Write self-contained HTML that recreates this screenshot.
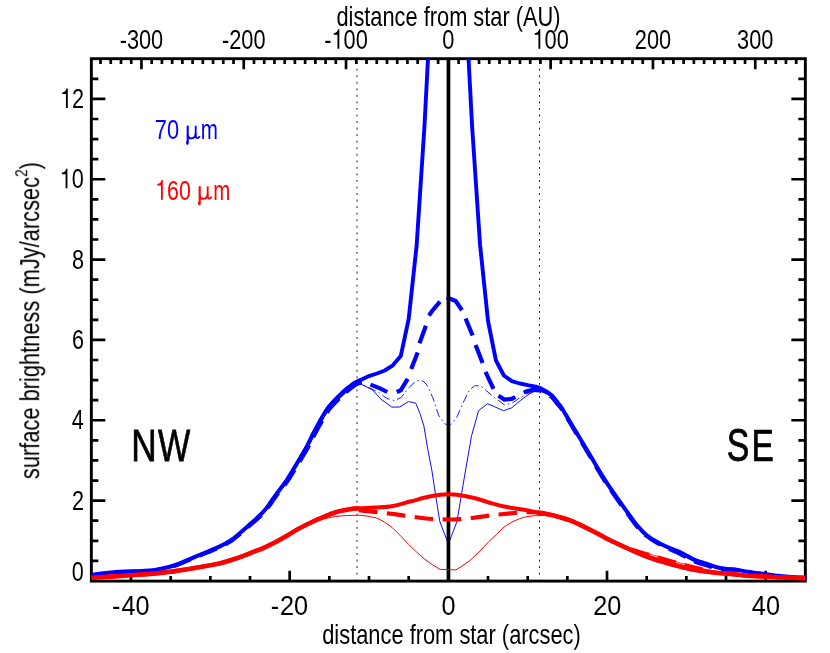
<!DOCTYPE html>
<html><head><meta charset="utf-8"><title>surface brightness profile</title>
<style>html,body{margin:0;padding:0;background:#fff}svg{display:block}text{font-family:"Liberation Sans",sans-serif}</style></head>
<body>
<svg width="830" height="653" viewBox="0 0 830 653">
<rect width="830" height="653" fill="#fff"/>
<defs><clipPath id="cp"><rect x="89.85" y="58.7" width="717.2" height="523.9"/></clipPath></defs>
<g stroke="#000" stroke-width="2.7" fill="none">
<path d="M131.02 581.1L131.02 570.8 M170.68 581.1L170.68 576 M210.35 581.1L210.35 576 M250.02 581.1L250.02 576 M289.68 581.1L289.68 570.8 M329.35 581.1L329.35 576 M369.02 581.1L369.02 576 M408.68 581.1L408.68 576 M448.35 581.1L448.35 570.8 M488.02 581.1L488.02 576 M527.68 581.1L527.68 576 M567.35 581.1L567.35 576 M607.02 581.1L607.02 570.8 M646.68 581.1L646.68 576 M686.35 581.1L686.35 576 M726.02 581.1L726.02 576 M765.68 581.1L765.68 570.8 M100.53 58.7L100.53 63.9 M110.76 58.7L110.76 63.9 M120.99 58.7L120.99 63.9 M131.22 58.7L131.22 63.9 M141.45 58.7L141.45 69.3 M151.68 58.7L151.68 63.9 M161.91 58.7L161.91 63.9 M172.14 58.7L172.14 63.9 M182.37 58.7L182.37 63.9 M192.6 58.7L192.6 63.9 M202.83 58.7L202.83 63.9 M213.06 58.7L213.06 63.9 M223.29 58.7L223.29 63.9 M233.52 58.7L233.52 63.9 M243.75 58.7L243.75 69.3 M253.98 58.7L253.98 63.9 M264.21 58.7L264.21 63.9 M274.44 58.7L274.44 63.9 M284.67 58.7L284.67 63.9 M294.9 58.7L294.9 63.9 M305.13 58.7L305.13 63.9 M315.36 58.7L315.36 63.9 M325.59 58.7L325.59 63.9 M335.82 58.7L335.82 63.9 M346.05 58.7L346.05 69.3 M356.28 58.7L356.28 63.9 M366.51 58.7L366.51 63.9 M376.74 58.7L376.74 63.9 M386.97 58.7L386.97 63.9 M397.2 58.7L397.2 63.9 M407.43 58.7L407.43 63.9 M417.66 58.7L417.66 63.9 M427.89 58.7L427.89 63.9 M438.12 58.7L438.12 63.9 M448.35 58.7L448.35 69.3 M458.58 58.7L458.58 63.9 M468.81 58.7L468.81 63.9 M479.04 58.7L479.04 63.9 M489.27 58.7L489.27 63.9 M499.5 58.7L499.5 63.9 M509.73 58.7L509.73 63.9 M519.96 58.7L519.96 63.9 M530.19 58.7L530.19 63.9 M540.42 58.7L540.42 63.9 M550.65 58.7L550.65 69.3 M560.88 58.7L560.88 63.9 M571.11 58.7L571.11 63.9 M581.34 58.7L581.34 63.9 M591.57 58.7L591.57 63.9 M601.8 58.7L601.8 63.9 M612.03 58.7L612.03 63.9 M622.26 58.7L622.26 63.9 M632.49 58.7L632.49 63.9 M642.72 58.7L642.72 63.9 M652.95 58.7L652.95 69.3 M663.18 58.7L663.18 63.9 M673.41 58.7L673.41 63.9 M683.64 58.7L683.64 63.9 M693.87 58.7L693.87 63.9 M704.1 58.7L704.1 63.9 M714.33 58.7L714.33 63.9 M724.56 58.7L724.56 63.9 M734.79 58.7L734.79 63.9 M745.02 58.7L745.02 63.9 M755.25 58.7L755.25 69.3 M765.48 58.7L765.48 63.9 M775.71 58.7L775.71 63.9 M785.94 58.7L785.94 63.9 M796.17 58.7L796.17 63.9 M91.35 560.87L98.35 560.87 M805.35 560.87L798.35 560.87 M91.35 540.78L98.35 540.78 M805.35 540.78L798.35 540.78 M91.35 520.7L98.35 520.7 M805.35 520.7L798.35 520.7 M91.35 500.61L105.35 500.61 M805.35 500.61L791.35 500.61 M91.35 480.53L98.35 480.53 M805.35 480.53L798.35 480.53 M91.35 460.44L98.35 460.44 M805.35 460.44L798.35 460.44 M91.35 440.36L98.35 440.36 M805.35 440.36L798.35 440.36 M91.35 420.27L105.35 420.27 M805.35 420.27L791.35 420.27 M91.35 400.19L98.35 400.19 M805.35 400.19L798.35 400.19 M91.35 380.1L98.35 380.1 M805.35 380.1L798.35 380.1 M91.35 360.02L98.35 360.02 M805.35 360.02L798.35 360.02 M91.35 339.93L105.35 339.93 M805.35 339.93L791.35 339.93 M91.35 319.85L98.35 319.85 M805.35 319.85L798.35 319.85 M91.35 299.76L98.35 299.76 M805.35 299.76L798.35 299.76 M91.35 279.68L98.35 279.68 M805.35 279.68L798.35 279.68 M91.35 259.59L105.35 259.59 M805.35 259.59L791.35 259.59 M91.35 239.51L98.35 239.51 M805.35 239.51L798.35 239.51 M91.35 219.42L98.35 219.42 M805.35 219.42L798.35 219.42 M91.35 199.34L98.35 199.34 M805.35 199.34L798.35 199.34 M91.35 179.25L105.35 179.25 M805.35 179.25L791.35 179.25 M91.35 159.17L98.35 159.17 M805.35 159.17L798.35 159.17 M91.35 139.08L98.35 139.08 M805.35 139.08L798.35 139.08 M91.35 119L98.35 119 M805.35 119L798.35 119 M91.35 98.91L105.35 98.91 M805.35 98.91L791.35 98.91 M91.35 78.83L98.35 78.83 M805.35 78.83L798.35 78.83"/>
</g>
<line x1="357" y1="58.7" x2="357" y2="579.6" stroke="#000" stroke-width="0.9" stroke-dasharray="1.9 4.645" stroke-dashoffset="3.04"/>
<line x1="539.5" y1="58.7" x2="539.5" y2="579.6" stroke="#000" stroke-width="0.9" stroke-dasharray="1.9 4.645" stroke-dashoffset="3.04"/>
<rect x="91.35" y="58.7" width="714" height="522.4" fill="none" stroke="#000" stroke-width="2.9"/>
<g clip-path="url(#cp)" fill="none" stroke-linejoin="round">
<path d="M357.8 380.8 L362.2 384.7 L372.3 389.8 L381 399.2 L391.8 407.1 L399.8 407 L408.6 401.5 L415.8 403.2 L420 413.6 L423.8 425.6 L427.8 449.5 L431.8 470 L436.2 499 L439.8 521.5 L448.4 544 L457 521.5 L460.7 499 L465.6 470 L471.6 435.6 L478.6 410.7 L487.5 403.7 L494.5 406.7 L503.6 410.7 L511.7 407.8 L520.4 400.6 L529 394.1 L537.7 389.8 L541 388.6" stroke="#00f" stroke-width="0.95"/>
<path d="M357.8 380.6 L362.2 384.7 L378 391.9 L386.7 398.4 L394.5 400.6 L400.9 397.7 L408.9 387.8 L415.9 380.8 L422.8 380.8 L426.8 384.8 L432.8 397.7 L438.8 415.7 L444.7 423.6 L448.4 425.8 L450.7 424.6 L456.7 417.6 L462.6 403.7 L469.6 389.8 L474.6 385.8 L480.6 385.8 L486.5 390.8 L494.5 397.7 L504.4 404.8 L511.7 403.5 L518.9 398.4 L527.6 393.4 L536.3 389.8 L541 388.5" stroke="#00f" stroke-width="0.9" stroke-dasharray="8.5 3.2 1.5 3.2" stroke-dashoffset="4"/>
<path d="M91.58 574.9 C93.99 574.6 100.66 573.64 106.08 573.09 C111.5 572.53 118.07 571.93 124.09 571.57 C130.11 571.21 137.36 571.17 142.19 570.95 C147.02 570.73 149.66 570.68 153.07 570.25 C156.48 569.81 159.45 569.04 162.64 568.34 C165.84 567.64 168.96 567.02 172.22 566.04 C175.48 565.05 178.5 563.92 182.19 562.44 C185.89 560.95 190.3 558.87 194.38 557.13 C198.47 555.39 202.6 553.72 206.68 552.01 C210.76 550.31 214.78 548.89 218.86 546.9 C222.93 544.92 227.44 542.55 231.1 540.11 C234.77 537.66 237.61 534.97 240.86 532.22 C244.12 529.47 247.83 526.1 250.65 523.61 C253.46 521.13 255.39 519.55 257.73 517.31 C260.06 515.08 262.69 512.5 264.67 510.21 C266.66 507.93 267.77 506.2 269.62 503.63 C271.48 501.06 272.94 498.73 275.79 494.8 C278.64 490.88 283.28 485.18 286.72 480.08 C290.17 474.97 293.24 469.5 296.45 464.17 C299.66 458.83 303.27 453 305.98 448.06 C308.69 443.12 310.38 439.04 312.71 434.54 C315.04 430.04 317.52 425.39 319.96 421.08 C322.4 416.76 324.68 412.35 327.35 408.65 C330.02 404.96 333.79 401.26 335.96 398.91 C338.14 396.56 338.62 396.21 340.38 394.54 C342.14 392.86 344.6 390.54 346.53 388.87 C348.47 387.2 350.32 385.7 351.98 384.53 C353.64 383.36 355 382.64 356.51 381.85 C358.03 381.06 360.32 380.14 361.08 379.8" stroke="#00f" stroke-width="4.0"/>
<path d="M361.08 379.8 L369.02 376.1 L376.95 373.5 L384.88 370.5 L392.82 365.3 L400.75 356.1 L408.68 319 L416.62 245.8 L424.55 125 L432.48 -29" stroke="#00f" stroke-width="3.9" stroke-linecap="round"/>
<path d="M464.22 -23 L472.15 127 L480.08 245 L488.02 321 L495.95 360.5 L503.88 375.5 L511.82 381.2 L519.75 383.5 L527.68 385.2 L535.62 386.6 L539.5 387.8" stroke="#00f" stroke-width="3.9" stroke-linecap="round"/>
<path d="M539.5 387.8 C540.25 388.2 542.59 389.45 543.98 390.23 C545.37 391.01 546.48 391.52 547.86 392.45 C549.23 393.38 551.01 394.68 552.23 395.81 C553.45 396.94 554.15 397.96 555.16 399.22 C556.18 400.47 557.33 402.07 558.33 403.36 C559.33 404.64 559.5 404.33 561.17 406.95 C562.85 409.57 565.95 415.02 568.37 419.1 C570.79 423.17 573.24 427.3 575.7 431.38 C578.16 435.46 581.02 440.07 583.13 443.56 C585.24 447.06 586.16 448.66 588.35 452.35 C590.55 456.05 593.53 461.15 596.28 465.73 C599.04 470.31 602.03 475.32 604.9 479.81 C607.76 484.31 610.62 488.52 613.49 492.7 C616.35 496.88 619.24 500.91 622.08 504.9 C624.93 508.88 627.99 513.05 630.58 516.59 C633.18 520.14 635.08 523.15 637.67 526.17 C640.26 529.19 642.87 532.07 646.12 534.73 C649.37 537.38 653.49 539.99 657.18 542.1 C660.86 544.21 664.54 545.77 668.24 547.39 C671.93 549 676.04 550.29 679.33 551.79 C682.62 553.3 685.3 555.02 687.96 556.4 C690.62 557.79 692.24 558.86 695.28 560.09 C698.33 561.31 702.78 562.57 706.22 563.73 C709.65 564.89 712.47 566.15 715.91 567.05 C719.34 567.94 723.67 568.7 726.82 569.1 C729.97 569.5 731.32 569 734.82 569.43 C738.32 569.86 743.25 570.97 747.83 571.69 C752.42 572.41 757.52 573.09 762.33 573.76 C767.15 574.42 771.91 575.13 776.72 575.69 C781.54 576.25 786.25 576.82 791.21 577.12 C796.17 577.41 803.95 577.39 806.5 577.45" stroke="#00f" stroke-width="4.0"/>
<path d="M361.65 382.6 C360.97 382.78 358.99 383.04 357.59 383.65 C356.18 384.26 354.82 385.13 353.22 386.27 C351.62 387.42 349.87 388.9 347.97 390.53 C346.07 392.16 343.57 394.44 341.82 396.06 C340.06 397.69 339.6 398.01 337.44 400.29 C335.28 402.57 331.52 406.14 328.85 409.75 C326.19 413.35 323.9 417.67 321.44 421.92 C318.98 426.18 316.46 430.79 314.09 435.26 C311.72 439.73 309.97 443.81 307.22 448.74 C304.46 453.67 300.81 459.5 297.55 464.83 C294.29 470.16 291.17 475.63 287.68 480.72 C284.19 485.82 279.49 491.49 276.61 495.4 C273.72 499.31 272.26 501.61 270.38 504.17 C268.5 506.74 267.34 508.5 265.33 510.79 C263.31 513.07 260.64 515.65 258.27 517.89 C255.91 520.12 253.98 521.71 251.15 524.19 C248.33 526.67 244.61 530.03 241.34 532.78 C238.06 535.53 235.19 538.24 231.5 540.69 C227.8 543.15 223.24 545.52 219.14 547.5 C215.05 549.48 211.01 550.89 206.92 552.59 C202.83 554.28 198.7 555.94 194.62 557.67 C190.53 559.4 186.11 561.48 182.41 562.96 C178.7 564.45 175.65 565.58 172.38 566.56 C169.1 567.55 165.96 568.16 162.76 568.86 C159.55 569.56 156.56 570.32 153.13 570.75 C149.71 571.19 147.05 571.23 142.21 571.45 C137.37 571.66 130.13 571.69 124.11 572.03 C118.1 572.37 111.54 572.97 106.12 573.51 C100.71 574.06 94.04 575 91.62 575.3" stroke="#00f" stroke-width="1.2"/>
<path d="M539.5 390.6 C540.09 390.86 541.78 391.61 543.02 392.17 C544.26 392.73 545.55 393.18 546.94 393.95 C548.33 394.72 550.16 395.78 551.37 396.79 C552.59 397.79 553.22 398.77 554.24 399.98 C555.25 401.19 556.44 402.8 557.47 404.04 C558.5 405.29 558.67 404.91 560.43 407.45 C562.19 409.99 565.55 415.28 568.03 419.3 C570.51 423.33 572.86 427.53 575.3 431.62 C577.74 435.71 580.58 440.33 582.67 443.84 C584.76 447.34 585.67 448.94 587.85 452.65 C590.02 456.35 592.97 461.48 595.72 466.07 C598.46 470.66 601.44 475.68 604.3 480.19 C607.17 484.69 610.04 488.91 612.91 493.1 C615.78 497.28 618.66 501.32 621.52 505.3 C624.37 509.29 627.41 513.45 630.02 517.01 C632.62 520.56 634.52 523.58 637.13 526.63 C639.74 529.67 642.4 532.59 645.68 535.27 C648.96 537.95 653.14 540.51 656.82 542.7 C660.5 544.89 664.12 546.66 667.76 548.41 C671.4 550.16 675.42 551.64 678.67 553.21 C681.91 554.77 684.56 556.41 687.24 557.8 C689.91 559.18 691.63 560.3 694.72 561.51 C697.81 562.73 702.29 563.99 705.78 565.07 C709.28 566.14 712.19 567.22 715.69 567.95 C719.19 568.69 723.6 569.2 726.78 569.5 C729.96 569.8 731.28 569.33 734.78 569.77 C738.28 570.2 743.19 571.36 747.77 572.11 C752.35 572.85 757.45 573.58 762.27 574.24 C767.08 574.91 771.86 575.57 776.68 576.11 C781.5 576.65 786.22 577.21 791.19 577.48 C796.16 577.75 803.95 577.71 806.5 577.75" stroke="#00f" stroke-width="1.2"/>
<path d="M361.65 382.6 C360.97 382.78 358.99 383.04 357.59 383.65 C356.18 384.26 354.82 385.13 353.22 386.27 C351.62 387.42 349.87 388.9 347.97 390.53 C346.07 392.16 343.57 394.44 341.82 396.06 C340.06 397.69 339.6 398.01 337.44 400.29 C335.28 402.57 331.52 406.14 328.85 409.75 C326.19 413.35 323.9 417.67 321.44 421.92 C318.98 426.18 316.46 430.79 314.09 435.26 C311.72 439.73 309.97 443.81 307.22 448.74 C304.46 453.67 300.81 459.5 297.55 464.83 C294.29 470.16 291.17 475.63 287.68 480.72 C284.19 485.82 279.49 491.49 276.61 495.4 C273.72 499.31 272.26 501.61 270.38 504.17 C268.5 506.74 267.34 508.5 265.33 510.79 C263.31 513.07 260.64 515.65 258.27 517.89 C255.91 520.12 253.98 521.71 251.15 524.19 C248.33 526.67 244.61 530.03 241.34 532.78 C238.06 535.53 235.19 538.24 231.5 540.69 C227.8 543.15 223.24 545.52 219.14 547.5 C215.05 549.48 211.01 550.89 206.92 552.59 C202.83 554.28 198.7 555.94 194.62 557.67 C190.53 559.4 186.11 561.48 182.41 562.96 C178.7 564.45 175.65 565.58 172.38 566.56 C169.1 567.55 165.96 568.16 162.76 568.86 C159.55 569.56 156.56 570.32 153.13 570.75 C149.71 571.19 147.05 571.23 142.21 571.45 C137.37 571.66 130.13 571.69 124.11 572.03 C118.1 572.37 111.54 572.97 106.12 573.51 C100.71 574.06 94.04 575 91.62 575.3" stroke="#00f" stroke-width="4.1" stroke-dasharray="18.6 9.5"/>
<path d="M523.6 392.4 C524.42 392.13 526.87 391.22 528.5 390.8 C530.13 390.38 531.57 389.93 533.4 389.9 C535.23 389.87 537.9 390.22 539.5 390.6 C541.1 390.98 541.78 391.61 543.02 392.17 C544.26 392.73 545.55 393.18 546.94 393.95 C548.33 394.72 550.16 395.78 551.37 396.79 C552.59 397.79 553.22 398.77 554.24 399.98 C555.25 401.19 556.44 402.8 557.47 404.04 C558.5 405.29 558.67 404.91 560.43 407.45 C562.19 409.99 565.55 415.28 568.03 419.3 C570.51 423.33 572.86 427.53 575.3 431.62 C577.74 435.71 580.58 440.33 582.67 443.84 C584.76 447.34 585.67 448.94 587.85 452.65 C590.02 456.35 592.97 461.48 595.72 466.07 C598.46 470.66 601.44 475.68 604.3 480.19 C607.17 484.69 610.04 488.91 612.91 493.1 C615.78 497.28 618.66 501.32 621.52 505.3 C624.37 509.29 627.41 513.45 630.02 517.01 C632.62 520.56 634.52 523.58 637.13 526.63 C639.74 529.67 642.4 532.59 645.68 535.27 C648.96 537.95 653.14 540.51 656.82 542.7 C660.5 544.89 664.12 546.66 667.76 548.41 C671.4 550.16 675.42 551.64 678.67 553.21 C681.91 554.77 684.56 556.41 687.24 557.8 C689.91 559.18 691.63 560.3 694.72 561.51 C697.81 562.73 702.29 563.99 705.78 565.07 C709.28 566.14 712.19 567.22 715.69 567.95 C719.19 568.69 723.6 569.2 726.78 569.5 C729.96 569.8 731.28 569.33 734.78 569.77 C738.28 570.2 743.19 571.36 747.77 572.11 C752.35 572.85 757.45 573.58 762.27 574.24 C767.08 574.91 771.86 575.57 776.68 576.11 C781.5 576.65 786.22 577.21 791.19 577.48 C796.16 577.75 803.95 577.71 806.5 577.75" stroke="#00f" stroke-width="4.1" stroke-dasharray="18.6 9.5"/>
<path d="M370.5 384.6 L380 388.3 L387.3 392" stroke="#00f" stroke-width="4.2" stroke-linejoin="miter"/>
<path d="M396.7 392 L400.75 390.3 L407.7 378.8" stroke="#00f" stroke-width="4.2" stroke-linejoin="miter"/>
<path d="M411.2 369 L417.7 352.5" stroke="#00f" stroke-width="4.2" stroke-linejoin="miter"/>
<path d="M419.5 343.3 L425.9 325.8" stroke="#00f" stroke-width="4.2" stroke-linejoin="miter"/>
<path d="M428.9 315.4 L432.3 310.7 L440 301.6" stroke="#00f" stroke-width="4.2" stroke-linejoin="miter"/>
<path d="M446.5 297.6 L448.3 298.1 L455.7 301 L462 310.3" stroke="#00f" stroke-width="4.2" stroke-linejoin="miter"/>
<path d="M465.6 318.5 L472.6 335.5" stroke="#00f" stroke-width="4.2" stroke-linejoin="miter"/>
<path d="M475.6 345 L482.6 362.9" stroke="#00f" stroke-width="4.2" stroke-linejoin="miter"/>
<path d="M485.5 371.9 L493.5 388.8" stroke="#00f" stroke-width="4.2" stroke-linejoin="miter"/>
<path d="M498.5 395.7 L504.4 399.5 L511.7 398.9 L515.3 397" stroke="#00f" stroke-width="4.2" stroke-linejoin="miter"/>
</g>
<line x1="448.45" y1="58.7" x2="448.45" y2="581.1" stroke="#000" stroke-width="3.7"/>
<g clip-path="url(#cp)" fill="none" stroke-linejoin="round">
<path d="M310 523.6 L316 521.2 L323 519.2 L330 517.5 L335.5 516.4 L341 515.9 L347.8 515.5 L357.2 515.2 L362 515.4 L366 515.9 L376.5 517.9 L384.5 522 L392.2 527.5 L400.7 536 L408.9 544.7 L416.6 552 L424.8 559.3 L432.5 564.8 L440.2 569.4 L455.8 569.9 L462 566 L469.9 560.6 L480 551 L488.4 542 L496.4 534.5 L504.2 526.9 L512 522 L519.9 518.5 L527 516.6 L534.3 515.7 L545 515.4 L556 517.4 L566 520.6" stroke="#f00" stroke-width="1"/>
<path d="M91.6 577.8 C97.02 577.45 115.67 576.25 124.1 575.7 C132.53 575.15 136.17 574.97 142.2 574.5 C148.23 574.03 155.28 573.38 160.3 572.9 C165.32 572.42 168.63 572.08 172.3 571.6 C175.97 571.12 178.6 570.6 182.3 570 C186 569.4 190.42 568.68 194.5 568 C198.58 567.32 202.72 566.63 206.8 565.9 C210.88 565.17 214.92 564.58 219 563.6 C223.08 562.62 227.22 561.3 231.3 560 C235.38 558.7 239.42 557.32 243.5 555.8 C247.58 554.28 252.72 552.1 255.8 550.9 C258.88 549.7 258.92 549.97 262 548.6 C265.08 547.23 270.22 544.8 274.3 542.7 C278.38 540.6 282.42 538.35 286.5 536 C290.58 533.65 294.72 530.85 298.8 528.6 C302.88 526.35 306.92 524.43 311 522.5 C315.08 520.57 319.22 518.7 323.3 517 C327.38 515.3 331.42 513.53 335.5 512.3 C339.58 511.07 344.12 510.25 347.8 509.6 C351.48 508.95 353.07 508.75 357.6 508.4 C362.13 508.05 369.27 507.87 375 507.5 C380.73 507.13 386.13 507.18 392 506.2 C397.87 505.22 404.15 503.17 410.2 501.6 C416.25 500.03 423.33 497.93 428.3 496.8 C433.27 495.67 436.65 495.23 440 494.8 C443.35 494.37 445.57 494.2 448.4 494.2 C451.23 494.2 452.73 494.17 457 494.8 C461.27 495.43 468.13 496.57 474 498 C479.87 499.43 487.17 501.97 492.2 503.4 C497.23 504.83 499.18 505.57 504.2 506.6 C509.22 507.63 516.33 508.53 522.3 509.6 C528.27 510.67 535.42 512.17 540 513 C544.58 513.83 546.53 513.92 549.8 514.6 C553.07 515.28 556.33 516.18 559.6 517.1 C562.87 518.02 566.13 518.88 569.4 520.1 C572.67 521.32 575.93 522.87 579.2 524.4 C582.47 525.93 585.73 527.67 589 529.3 C592.27 530.93 595.53 532.5 598.8 534.2 C602.07 535.9 605.33 537.83 608.6 539.5 C611.87 541.17 614.83 542.53 618.4 544.2 C621.97 545.87 626.02 547.73 630 549.5 C633.98 551.27 638.22 553.17 642.3 554.8 C646.38 556.43 650.42 557.93 654.5 559.3 C658.58 560.67 662.72 561.83 666.8 563 C670.88 564.17 674.92 565.27 679 566.3 C683.08 567.33 687.22 568.37 691.3 569.2 C695.38 570.03 699.42 570.7 703.5 571.3 C707.58 571.9 711.38 572.37 715.8 572.8 C720.22 573.23 724.67 573.42 730 573.9 C735.33 574.38 742.42 575.28 747.8 575.7 C753.18 576.12 757.48 576.15 762.3 576.4 C767.12 576.65 771.88 576.97 776.7 577.2 C781.52 577.43 786.5 577.62 791.2 577.8 C795.9 577.98 802.62 578.22 804.9 578.3" stroke="#f00" stroke-width="4.1"/>
<path d="M91.6 577.8 C97.02 577.45 115.67 576.25 124.1 575.7 C132.53 575.15 136.17 574.97 142.2 574.5 C148.23 574.03 155.28 573.38 160.3 572.9 C165.32 572.42 168.63 572.08 172.3 571.6 C175.97 571.12 178.6 570.6 182.3 570 C186 569.4 190.42 568.68 194.5 568 C198.58 567.32 202.72 566.63 206.8 565.9 C210.88 565.17 214.92 564.58 219 563.6 C223.08 562.62 227.22 561.3 231.3 560 C235.38 558.7 239.42 557.32 243.5 555.8 C247.58 554.28 252.72 552.1 255.8 550.9 C258.88 549.7 258.92 549.97 262 548.6 C265.08 547.23 270.22 544.8 274.3 542.7 C278.38 540.6 282.42 538.35 286.5 536 C290.58 533.65 294.72 530.85 298.8 528.6 C302.88 526.35 306.92 524.43 311 522.5 C315.08 520.57 319.22 518.7 323.3 517 C327.38 515.3 331.42 513.53 335.5 512.3 C339.58 511.07 344.12 510.25 347.8 509.6 C351.48 508.95 355.82 508.61 357.6 508.4 C359.38 508.19 358.35 508.36 358.5 508.35" stroke="#f00" stroke-width="4.5"/>
<path d="M538.5 512.71 C538.75 512.76 538.12 512.69 540 513 C541.88 513.31 546.53 513.92 549.8 514.6 C553.07 515.28 556.33 516.18 559.6 517.1 C562.87 518.02 566.13 518.88 569.4 520.1 C572.67 521.32 575.93 522.87 579.2 524.4 C582.47 525.93 585.73 527.67 589 529.3 C592.27 530.93 595.53 532.5 598.8 534.2 C602.07 535.9 605.33 537.83 608.6 539.5 C611.87 541.17 614.83 542.53 618.4 544.2 C621.97 545.87 626.02 547.73 630 549.5 C633.98 551.27 638.22 553.17 642.3 554.8 C646.38 556.43 650.42 557.93 654.5 559.3 C658.58 560.67 662.72 561.83 666.8 563 C670.88 564.17 674.92 565.27 679 566.3 C683.08 567.33 687.22 568.37 691.3 569.2 C695.38 570.03 699.42 570.7 703.5 571.3 C707.58 571.9 711.38 572.37 715.8 572.8 C720.22 573.23 724.67 573.42 730 573.9 C735.33 574.38 742.42 575.28 747.8 575.7 C753.18 576.12 757.48 576.15 762.3 576.4 C767.12 576.65 771.88 576.97 776.7 577.2 C781.52 577.43 786.5 577.62 791.2 577.8 C795.9 577.98 802.62 578.22 804.9 578.3" stroke="#f00" stroke-width="4.5"/>
<path d="M622 546.4 C623.47 546.88 627.8 548.33 630.8 549.3 C633.8 550.27 636.9 551.27 640 552.2 C643.1 553.13 646.43 554.03 649.4 554.9 C652.37 555.77 654.55 556.45 657.8 557.4 C661.05 558.35 665.88 559.72 668.9 560.6 C671.92 561.48 673.33 561.97 675.9 562.7 C678.47 563.43 680.65 564.07 684.3 565 C687.95 565.93 694.7 567.53 697.8 568.3 C700.9 569.07 700.53 569.08 702.9 569.6 C705.27 570.12 710.48 571.1 712 571.4" stroke="#f00" stroke-width="0.8" transform="translate(0.25 -0.85)"/>
<path d="M622 546.4 C623.47 546.88 627.8 548.33 630.8 549.3 C633.8 550.27 636.9 551.27 640 552.2 C643.1 553.13 646.43 554.03 649.4 554.9 C652.37 555.77 654.55 556.45 657.8 557.4 C661.05 558.35 665.88 559.72 668.9 560.6 C671.92 561.48 673.33 561.97 675.9 562.7 C678.47 563.43 680.65 564.07 684.3 565 C687.95 565.93 694.7 567.53 697.8 568.3 C700.9 569.07 700.53 569.08 702.9 569.6 C705.27 570.12 710.48 571.1 712 571.4" stroke="#f00" stroke-width="0.8" transform="translate(-0.2 0.65)"/>
<path d="M630.8 549.3 C632.33 549.78 636.9 551.27 640 552.2 C643.1 553.13 647.83 554.45 649.4 554.9" stroke="#f00" stroke-width="4.1"/>
<path d="M657.8 557.4 C659.65 557.93 665.88 559.72 668.9 560.6 C671.92 561.48 674.73 562.35 675.9 562.7" stroke="#f00" stroke-width="4.1"/>
<path d="M684.3 565 C686.55 565.55 694.7 567.53 697.8 568.3 C700.9 569.07 702.05 569.38 702.9 569.6" stroke="#f00" stroke-width="4.1"/>
<path d="M358.9 510.3 C360.42 510.47 364.15 510.92 368 511.3 C371.85 511.68 377.33 512.08 382 512.6 C386.67 513.12 391.33 513.77 396 514.4 C400.67 515.03 405.33 515.77 410 516.4 C414.67 517.03 419.33 517.73 424 518.2 C428.67 518.67 433.33 518.98 438 519.2 C442.67 519.42 447.33 519.57 452 519.5 C456.67 519.43 461.33 519.23 466 518.8 C470.67 518.37 475.33 517.53 480 516.9 C484.67 516.27 489.33 515.55 494 515 C498.67 514.45 503.33 514.02 508 513.6 C512.67 513.18 517.33 512.72 522 512.5 C526.67 512.28 532 512.15 536 512.3 C540 512.45 544.33 513.22 546 513.4" stroke="#f00" stroke-width="4.1" stroke-dasharray="18.6 9.5"/>
</g>
<g font-family="'Liberation Sans', sans-serif" style="will-change:transform">
<text transform="translate(336.42 25.7) scale(0.7963 1)" font-size="27.4" fill="#000">distance from star (AU)</text>
<text transform="translate(119.67 48.85) scale(0.7800 1)" font-size="27.9" fill="#000">-300</text>
<text transform="translate(221.97 48.85) scale(0.7800 1)" font-size="27.9" fill="#000">-200</text>
<text transform="translate(324.27 48.85) scale(0.7800 1)" font-size="27.9" fill="#000">-</text>
<path transform="translate(331.52 48.85) scale(21.7620 27.9)" d="M.359 0V-.702H.3Q.27 -.575 .101 -.56V-.505H.273V0Z" fill="#000"/>
<text transform="translate(343.62 48.85) scale(0.7800 1)" font-size="27.9" fill="#000">00</text>
<text transform="translate(442.3 48.85) scale(0.7800 1)" font-size="27.9" fill="#000">0</text>
<path transform="translate(532.49 48.85) scale(21.7620 27.9)" d="M.359 0V-.702H.3Q.27 -.575 .101 -.56V-.505H.273V0Z" fill="#000"/>
<text transform="translate(544.6 48.85) scale(0.7800 1)" font-size="27.9" fill="#000">00</text>
<text transform="translate(634.79 48.85) scale(0.7800 1)" font-size="27.9" fill="#000">200</text>
<text transform="translate(737.09 48.85) scale(0.7800 1)" font-size="27.9" fill="#000">300</text>
<text transform="translate(111.97 614.9) scale(0.9050 1)" font-size="27.9" fill="#000">-</text>
<text transform="translate(121.38 614.9) scale(0.9050 1)" font-size="27.9" fill="#000">40</text>
<text transform="translate(270.64 614.9) scale(0.9050 1)" font-size="27.9" fill="#000">-</text>
<text transform="translate(280.04 614.9) scale(0.9050 1)" font-size="27.9" fill="#000">20</text>
<text transform="translate(441.53 614.9) scale(0.9050 1)" font-size="27.9" fill="#000">0</text>
<text transform="translate(593.17 614.9) scale(0.9050 1)" font-size="27.9" fill="#000">20</text>
<text transform="translate(751.84 614.9) scale(0.9050 1)" font-size="27.9" fill="#000">40</text>
<text transform="translate(322.22 643.8) scale(0.7977 1)" font-size="27.4" fill="#000">distance from star (arcsec)</text>
<path transform="translate(60.02 108.01) scale(21.6225 27.9)" d="M.359 0V-.702H.3Q.27 -.575 .101 -.56V-.505H.273V0Z" fill="#000"/>
<text transform="translate(72.05 108.01) scale(0.7750 1)" font-size="27.9" fill="#000">2</text>
<path transform="translate(59.69 188.35) scale(21.6225 27.9)" d="M.359 0V-.702H.3Q.27 -.575 .101 -.56V-.505H.273V0Z" fill="#000"/>
<text transform="translate(71.71 188.35) scale(0.7750 1)" font-size="27.9" fill="#000">0</text>
<text transform="translate(72.05 268.69) scale(0.7750 1)" font-size="27.9" fill="#000">8</text>
<text transform="translate(72.05 349.03) scale(0.7750 1)" font-size="27.9" fill="#000">6</text>
<text transform="translate(71.71 429.37) scale(0.7750 1)" font-size="27.9" fill="#000">4</text>
<text transform="translate(72.05 509.71) scale(0.7750 1)" font-size="27.9" fill="#000">2</text>
<text transform="translate(71.71 580.8) scale(0.7750 1)" font-size="27.9" fill="#000">0</text>
<text transform="translate(39.2 479.14) rotate(-90) scale(0.7974 1)" font-size="27.4">surface brightness (mJy/arcsec<tspan font-size="17" dy="-12.3">2</tspan><tspan font-size="27.4" dy="12.3">)</tspan></text>
<text transform="translate(154.78 139.2) scale(0.7819 1)" font-size="27.9" fill="#00f">70</text>
<g transform="translate(187.7 139.1)" fill="none" stroke="#00f" stroke-linecap="butt">
<path d="M0 -13.4V3" stroke-width="2.1"/>
<ellipse cx="-0.3" cy="3.7" rx="1.4" ry="2.1" fill="#00f" stroke="none"/>
<path d="M0 -4.5C0.1 -1.4 1.8 -0.75 3.6 -0.75C5.9 -0.75 8 -2.6 8 -6" stroke-width="1.9"/>
<path d="M8 -13.4V-3.4C8 -0.6 10.6 -0.1 12.1 -3.0" stroke-width="1.8"/>
</g>
<text transform="translate(200.81 139.1) scale(0.7515 1)" font-size="27.4" fill="#00f">m</text>
<path transform="translate(155.14 199.7) scale(21.3918 27.9)" d="M.359 0V-.702H.3Q.27 -.575 .101 -.56V-.505H.273V0Z" fill="#f00"/>
<text transform="translate(167.04 199.7) scale(0.7667 1)" font-size="27.9" fill="#f00">60</text>
<g transform="translate(199.7 199.6)" fill="none" stroke="#f00" stroke-linecap="butt">
<path d="M0 -13.4V3" stroke-width="2.1"/>
<ellipse cx="-0.3" cy="3.7" rx="1.4" ry="2.1" fill="#f00" stroke="none"/>
<path d="M0 -4.5C0.1 -1.4 1.8 -0.75 3.6 -0.75C5.9 -0.75 8 -2.6 8 -6" stroke-width="1.9"/>
<path d="M8 -13.4V-3.4C8 -0.6 10.6 -0.1 12.1 -3.0" stroke-width="1.8"/>
</g>
<text transform="translate(213.32 199.6) scale(0.7464 1)" font-size="27.4" fill="#f00">m</text>
<text transform="translate(131.15 460.5) scale(0.7822 1)" font-size="45" fill="#000" stroke="#000" stroke-width="0.75" stroke-linejoin="miter">N</text>
<text transform="translate(158.1 460.5) scale(0.7601 1)" font-size="45" fill="#000" stroke="#000" stroke-width="0.75" stroke-linejoin="miter">W</text>
<text transform="translate(726.84 460.8) scale(0.7424 1)" font-size="45.6" fill="#000" stroke="#000" stroke-width="0.75" stroke-linejoin="miter">S</text>
<text transform="translate(751.59 460.5) scale(0.7436 1)" font-size="45" fill="#000" stroke="#000" stroke-width="0.75" stroke-linejoin="miter">E</text>
</g>
</svg>
</body></html>
